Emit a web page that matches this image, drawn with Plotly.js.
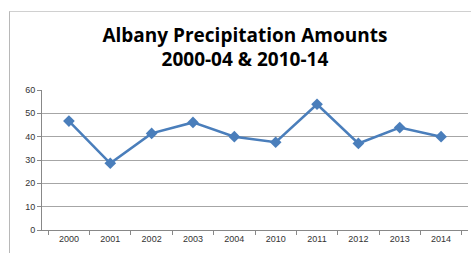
<!DOCTYPE html>
<html>
<head>
<meta charset="utf-8">
<script src="https://cdn.plot.ly/plotly-3.0.1.min.js"></script>
<style>
html,body{margin:0;padding:0;background:#fff;}
#frame{position:absolute;left:9px;top:11px;width:470px;height:250px;border-left:1px solid #b8b8b8;border-top:1px solid #d0d0d0;}
#chart{position:absolute;left:0;top:0;width:471px;height:253px;}
</style>
</head>
<body>
<div id="frame"></div>
<div id="chart"></div>
<script>
const years = ["2000","2001","2002","2003","2004","2010","2011","2012","2013","2014"];
const precipitation = [46.7, 28.6, 41.4, 46.1, 40.0, 37.6, 53.9, 37.1, 43.9, 40.0];
const chartTitle = "Albany Precipitation Amounts<br>2000-04 & 2010-14";

Plotly.newPlot("chart", [{
  type: "scatter",
  mode: "lines+markers",
  x: years,
  y: precipitation,
  line: {color: "#4a7ebb", width: 2.5},
  marker: {symbol: "diamond", size: 9, color: "#4a7ebb"},
  hoverinfo: "x+y"
}], {
  width: 471,
  height: 253,
  margin: {l: 42, r: 3, t: 90, b: 23},
  paper_bgcolor: "rgba(0,0,0,0)",
  plot_bgcolor: "rgba(0,0,0,0)",
  showlegend: false,
  title: {
    text: chartTitle,
    font: {family: "Open Sans, Liberation Sans, sans-serif", size: 19, color: "#000", weight: "bold"},
    x: 0.52, xanchor: "center",
    y: 0.835, yanchor: "middle"
  },
  xaxis: {
    type: "category",
    tickson: "boundaries",
    ticks: "outside",
    ticklen: 4,
    tickcolor: "#888",
    showline: true,
    linecolor: "#888",
    showgrid: false,
    tickfont: {family: "Liberation Sans, sans-serif", size: 9, color: "#333"},
    fixedrange: true
  },
  yaxis: {
    range: [0, 60],
    dtick: 10,
    ticks: "outside",
    ticklen: 4,
    tickcolor: "#888",
    showline: true,
    linecolor: "#888",
    gridcolor: "#a6a6a6",
    gridwidth: 1,
    zeroline: false,
    tickfont: {family: "Liberation Sans, sans-serif", size: 9, color: "#333"},
    fixedrange: true
  }
}, {displayModeBar: false, staticPlot: true});
</script>
</body>
</html>
